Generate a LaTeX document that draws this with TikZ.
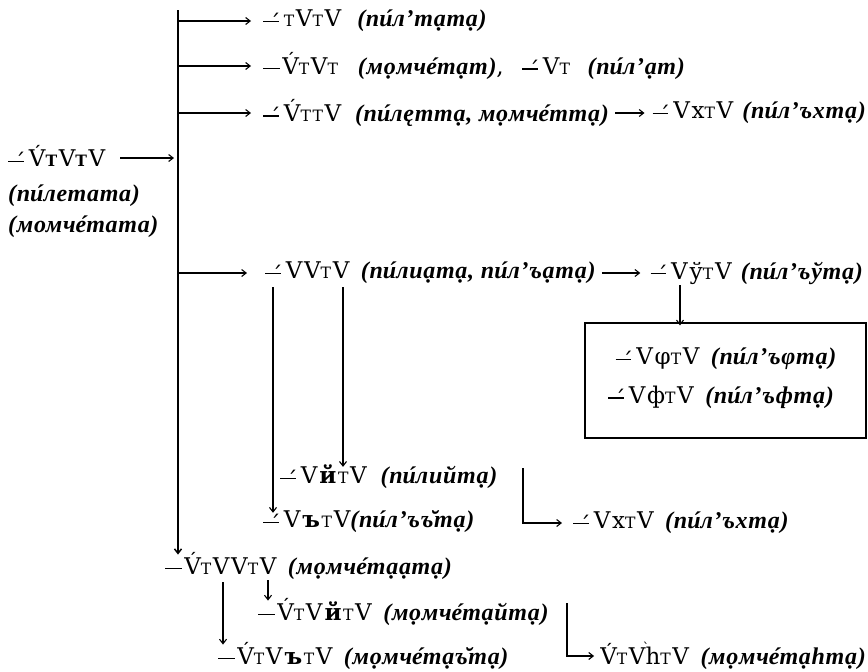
\documentclass[tikz,border=0pt]{standalone}
\usepackage{fontspec}
\usetikzlibrary{arrows.meta}
\setmainfont{DejaVu Serif}[LetterSpace=7]
\newfontfamily\cyi{Liberation Serif}[LetterSpace=3]
\newcommand\ct[1]{{\cyi\bfseries\itshape\fontsize{24}{28}\selectfont #1}}
\newcommand\ac[1]{\ooalign{#1\cr\hidewidth\kern0.18em´\hidewidth\cr}}
\newcommand\tT{\scalebox{0.68}{T}\kern0.07em}
\newcommand\tTb{\scalebox{0.68}{\bfseries T}\kern0.07em}
\newcommand\sdash{\makebox[0.9em][l]{\rule[0.2em]{0.68em}{0.055em}\hspace{-0.42em}\raisebox{-0.2em}{´}}}
\newcommand\pdash{\makebox[0.83em][l]{\rule[0.22em]{0.72em}{0.055em}}}
\newcommand\mk{\makebox[0pt][l]{\raisebox{0.5em}{\kern-0.12em\fontsize{13}{13}\selectfont ˋ}}}
\tikzset{
  lbl/.style={anchor=west, inner sep=0pt, font=\fontsize{23}{27}\selectfont},
  arr/.style={line width=1.1pt, -{Straight Barb[length=4.5pt,width=7pt]}},
}
\begin{document}
\begin{tikzpicture}[x=1pt,y=-1pt]
\useasboundingbox (0,0) rectangle (868,672);
% left node
\node[lbl] (L1) at (8,158) {\sdash V́\tTb V\tTb V};
\node[lbl] (L2) at (8,196) {\ct{(п\ac{и}летата)}};
\node[lbl] (L3) at (8,227) {\ct{(момч\ac{е}тата)}};
% rows
\node[lbl] (r1) at (263,21) {\sdash\tT V\tT V\hspace{0.7em}\ct{(п\ac{и}л’тạтạ)}};
\node[lbl] (r2) at (263,66) {\pdash V́\tT V\tT\hspace{0.8em}\ct{(мọмч\ac{е}тạт)},\hspace{0.8em}\sdash V\tT\hspace{0.7em}\ct{(п\ac{и}л’ạт)}};
\node[lbl] (r3a) at (263,113) {\sdash V́\tT\tT V\hspace{0.6em}\ct{(п\ac{и}лęттạ, мọмч\ac{е}ттạ)}};
\node[lbl, anchor=east] (r3b) at (866,113) {\sdash Vх\tT V\hspace{0.4em}\ct{(п\ac{и}л’ъхтạ)}};
\node[lbl] (r4a) at (265,273) {\sdash VV\tT V\hspace{0.5em}\ct{(п\ac{и}лиạтạ, п\ac{и}л’ъạтạ)}};
\node[lbl, anchor=east] (r4b) at (863,273) {\sdash Vў\tT V\hspace{0.4em}\ct{(п\ac{и}л’ъўтạ)}};
\node[draw, line width=1.1pt, minimum width=281pt, minimum height=115pt, inner sep=0pt] (box) at (725.5,380.5) {};
\node[lbl, anchor=center] (bx1) at (726,359) {\sdash Vφ\tT V\hspace{0.5em}\ct{(п\ac{и}л’ъφтạ)}};
\node[lbl, anchor=center] (bx2) at (721,397) {\sdash Vф\tT V\hspace{0.5em}\ct{(п\ac{и}л’ъфтạ)}};
\node[lbl] (r5a) at (280,477) {\sdash V\textbf{й}\tT V\hspace{0.6em}\ct{(п\ac{и}лийтạ)}};
\node[lbl] (r5b) at (263,522) {\sdash V\textbf{ъ}\tT V\ct{(п\ac{и}л’ъъ̆тạ)}};
\node[lbl] (r6) at (573,523) {\sdash Vх\tT V\hspace{0.5em}\ct{(п\ac{и}л’ъхтạ)}};
\node[lbl] (m1) at (165,566) {\pdash V́\tT VV\tT V\hspace{0.5em}\ct{(мọмч\ac{е}тạạтạ)}};
\node[lbl] (m2) at (258,612) {\pdash V́\tT V\textbf{й}\tT V\hspace{0.5em}\ct{(мọмч\ac{е}тạйтạ)}};
\node[lbl] (m3) at (218,656) {\pdash V́\tT V\textbf{ъ}\tT V\hspace{0.5em}\ct{(мọмч\ac{е}тạъ̆тạ)}};
\node[lbl, anchor=east] (m4) at (866,656) {V́\tT V\mk h\tT V\hspace{0.5em}\ct{(мọмч\ac{е}тạhтạ)}};
% main vertical
\coordinate (mtop) at (178,10);
\draw[arr, line width=1.5pt] (mtop) -- ([yshift=-2pt]mtop |- m1.north);
\draw[arr] ([xshift=15pt]L1.east) -- ([xshift=-4pt]mtop |- L1.east);
\draw[arr] (mtop |- r1.west) -- ([xshift=-12pt]r1.west);
\draw[arr] (mtop |- r2.west) -- ([xshift=-12pt]r2.west);
\draw[arr] (mtop |- r3a.west) -- ([xshift=-12pt]r3a.west);
\draw[arr] (mtop |- r4a.west) -- ([xshift=-18pt]r4a.west);
\draw[arr] ([xshift=6pt]r3a.east) -- ([xshift=-8pt]r3b.west);
\draw[arr] ([xshift=6pt]r4a.east) -- ([xshift=-10pt]r4b.west);
% verticals under row 4
\coordinate (v1) at (273,287);
\coordinate (v2) at (343,287);
\coordinate (v3) at (680,285);
\draw[arr] (v1) -- ([yshift=-2pt]v1 |- r5b.north);
\draw[arr] (v2) -- ([yshift=-2pt]v2 |- r5a.north);
\draw[arr] (v3) -- ([yshift=-3pt]v3 |- box.north);
% brackets
\coordinate (b1) at (523,468);
\draw[arr] (b1) |- ([xshift=-11pt]r6.west);
\coordinate (b2) at (567,603);
\draw[arr] (b2) |- ([xshift=-6pt]m4.west);
% under m1
\coordinate (v4) at (223,582);
\coordinate (v5) at (268,580);
\draw[arr] (v4) -- ([yshift=-2pt]v4 |- m3.north);
\draw[arr] (v5) -- ([yshift=-2pt]v5 |- m2.north);
\end{tikzpicture}
\end{document}
